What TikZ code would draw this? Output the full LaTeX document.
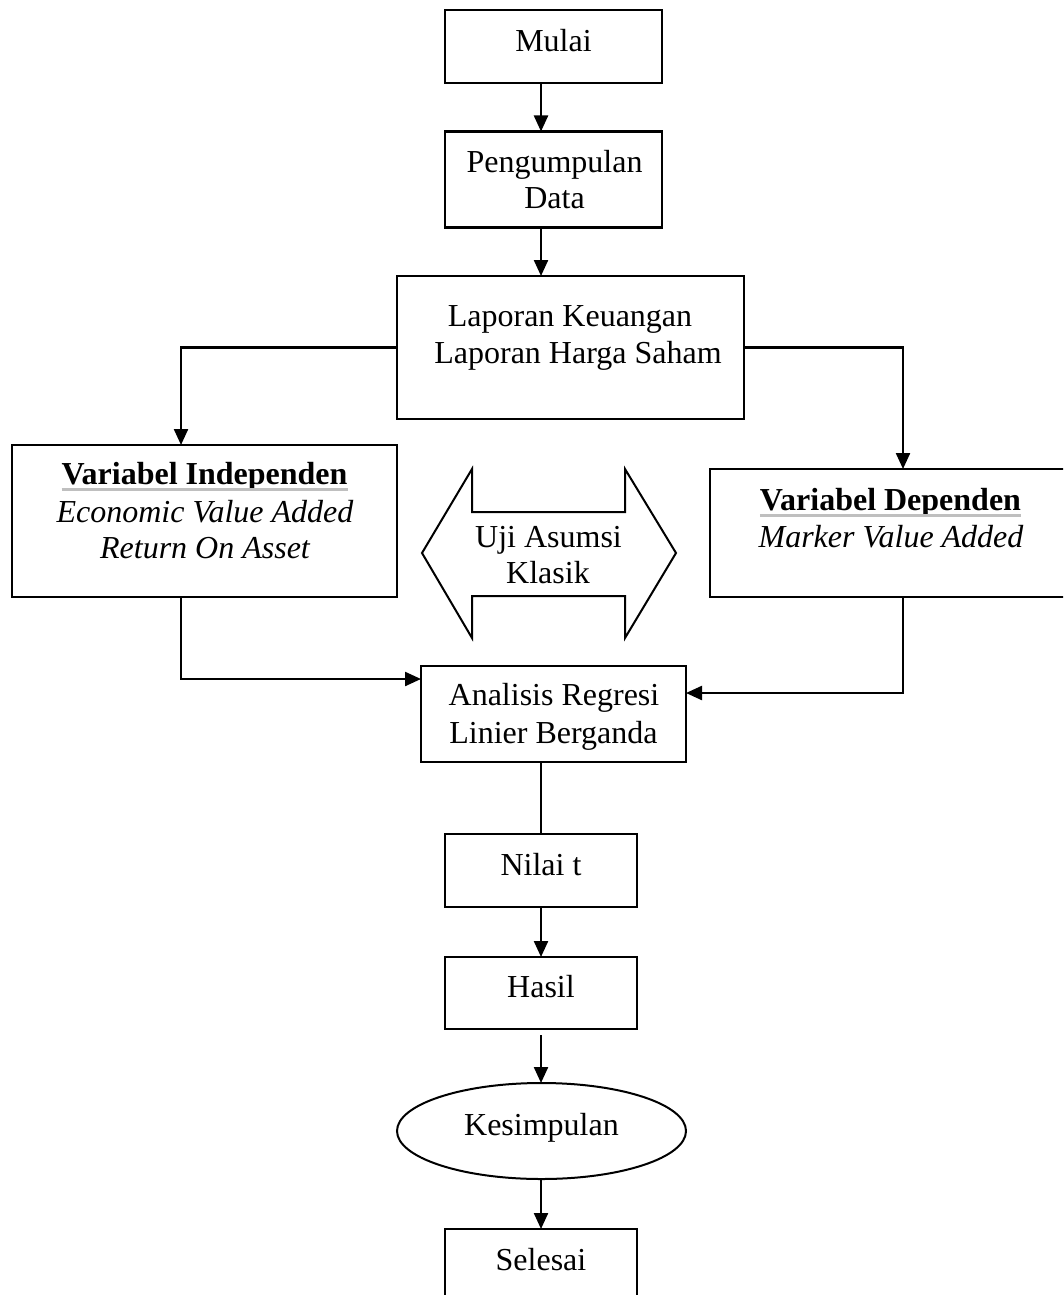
\documentclass[tikz,border=0pt]{standalone}
\usepackage{fontspec}
\setmainfont{Liberation Serif}
\usetikzlibrary{arrows.meta,shapes.geometric,calc}
\begin{document}
\begin{tikzpicture}[x=1pt,y=-1pt,
  box/.style={draw,line width=2.3pt,rectangle,inner sep=0pt,outer sep=0pt},
  oval/.style={draw,line width=2pt,ellipse,inner sep=0pt,outer sep=0pt},
  txt/.style={inner sep=0pt,outer sep=0pt,anchor=base,font=\fontsize{32}{37}\selectfont},
  arr/.style={line width=2.3pt,-{Triangle[length=16pt,width=14pt]}},
  plain/.style={line width=1.3pt},
  ul/.style={line width=3pt,color=black!25}]
\useasboundingbox (0,0) rectangle (1063,1295);
\clip (0,0) rectangle (1063,1295);
% axis coordinates
\coordinate (ax) at (541,0);
\coordinate (lx) at (181,0);
\coordinate (rx) at (903,0);
\coordinate (ly) at (0,679);
\coordinate (ry) at (0,693);
% boxes
\node[box,minimum width=217pt,minimum height=73pt] (mulai) at (553.5,46.5) {};
\node[box,minimum width=217pt,minimum height=96pt] (peng) at (553.5,179.5) {};
\node[box,minimum width=347pt,minimum height=143pt] (lap) at (570.5,347.5) {};
\node[box,minimum width=385pt,minimum height=152pt] (indep) at (204.5,521) {};
\node[box,minimum width=360pt,minimum height=128pt] (dep) at (890,533) {};
\node[box,minimum width=265pt,minimum height=96pt] (anal) at (553.5,714) {};
\node[box,minimum width=192pt,minimum height=73pt] (nilai) at (541,870.5) {};
\node[box,minimum width=192pt,minimum height=72pt] (hasil) at (541,993) {};
\node[oval,minimum width=289pt,minimum height=96pt] (kes) at (541.5,1131) {};
\node[box,minimum width=192pt,minimum height=73pt] (sel) at (541,1265.5) {};
% double arrow
\draw[line width=2pt,line join=miter] (422,553) -- (472,469) -- (472,512) -- (625,512) -- (625,469) -- (676,553) -- (625,638) -- (625,596) -- (472,596) -- (472,638) -- cycle;
% texts
\node[txt] (t1) at (553.5,52) {Mulai};
\node[txt] (t2a) at (554.5,172) {Pengumpulan};
\node[txt] (t2b) at (554.5,208) {Data};
\node[txt] (t3a) at (570,326) {Laporan Keuangan};
\node[txt] (t3b) at (578,363) {Laporan Harga Saham};
\node[txt] (t4a) at (204.5,484) {\bfseries Variabel Independen};
\node[txt] (t4b) at (205,522) {\itshape Economic Value Added};
\node[txt] (t4c) at (205,558) {\itshape Return On Asset};
\node[txt] (t5a) at (548.5,547) {Uji Asumsi};
\node[txt] (t5b) at (548,583) {Klasik};
\node[txt] (t6a) at (890.5,510) {\bfseries Variabel Dependen};
\node[txt] (t6b) at (891,547) {\itshape Marker Value Added};
\node[txt] (t7a) at (554,705) {Analisis Regresi};
\node[txt] (t7b) at (553.5,743) {Linier Berganda};
\node[txt] (t8) at (541,875) {Nilai t};
\node[txt] (t9) at (541,997) {Hasil};
\node[txt] (t10) at (541.5,1135) {Kesimpulan};
\node[txt] (t11) at (541,1270) {Selesai};
% underlines
\draw[ul] ($(t4a.base west)+(0,5.5)$) -- ($(t4a.base east)+(0,5.5)$);
\draw[ul] ($(t6a.base west)+(0,5.5)$) -- ($(t6a.base east)+(0,5.5)$);
% connectors
\draw[arr] (mulai.south -| ax) -- (peng.north -| ax);
\draw[arr] (peng.south -| ax) -- (lap.north -| ax);
\draw[arr] (lap.west) -| (indep.north -| lx);
\draw[arr] (lap.east) -| (dep.north -| rx);
\draw[arr] (indep.south -| lx) |- (anal.west |- ly);
\draw[arr] (dep.south -| rx) |- (anal.east |- ry);
\draw[plain] (anal.south -| ax) -- (nilai.north -| ax);
\draw[arr] (nilai.south -| ax) -- (hasil.north -| ax);
\draw[arr] ($(hasil.south -| ax)+(0,6)$) -- (kes.north -| ax);
\draw[arr] (kes.south -| ax) -- (sel.north -| ax);
\end{tikzpicture}
\end{document}
